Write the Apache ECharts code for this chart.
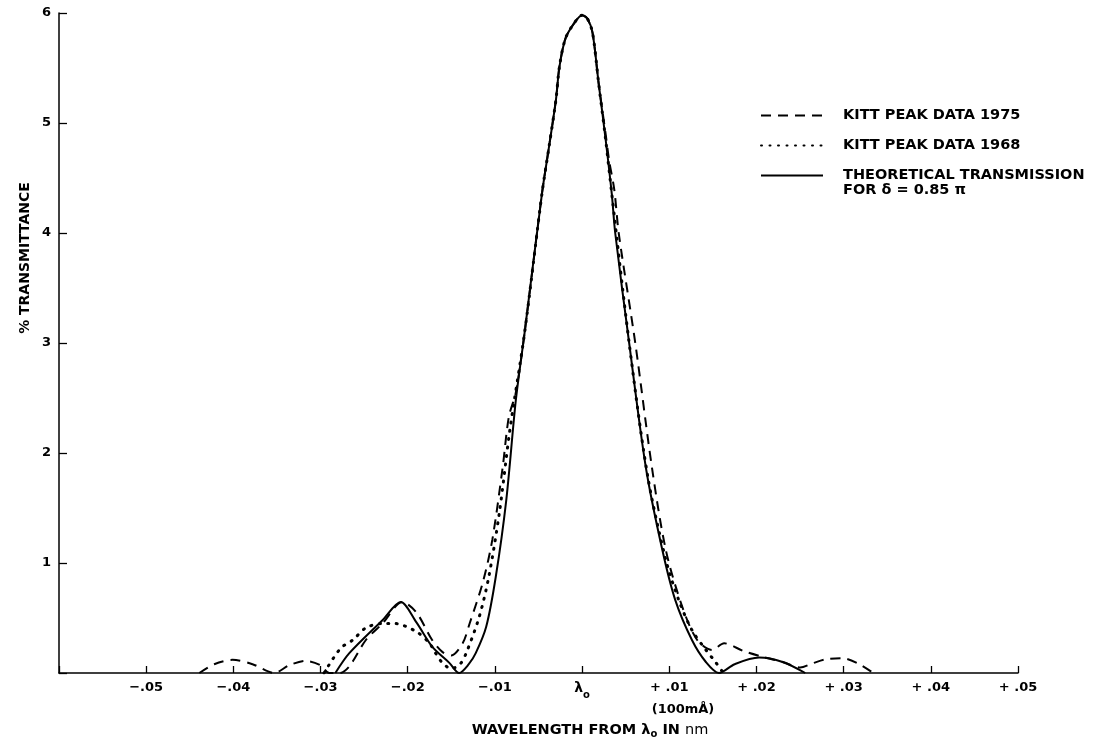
<!DOCTYPE html>
<html>
<head>
<meta charset="utf-8">
<script src="https://cdn.jsdelivr.net/npm/echarts@6/dist/echarts.min.js"></script>
<style>
  html, body { margin: 0; padding: 0; background: #fff; }
  #chart { width: 1102px; height: 743px; }
</style>
</head>
<body>
<div id="chart"></div>
<script>
// wavelength offset from lambda0 in nm, % transmittance
var kitt1975 = [
  [-0.0439, 0], [-0.0422, 0.08], [-0.0401, 0.12], [-0.0378, 0.08], [-0.0353, 0],
  [-0.0336, 0.07], [-0.0317, 0.11], [-0.0300, 0.07], [-0.0290, 0], [-0.0278, 0],
  [-0.0267, 0.06], [-0.0248, 0.30], [-0.0229, 0.45], [-0.0206, 0.645], [-0.0190, 0.55],
  [-0.0172, 0.30], [-0.0160, 0.19], [-0.0150, 0.16], [-0.0137, 0.27], [-0.0129, 0.45],
  [-0.0114, 0.82], [-0.0103, 1.21], [-0.0091, 1.875], [-0.0084, 2.33], [-0.0076, 2.55],
  [-0.0066, 3.09], [-0.0046, 4.36], [-0.0038, 4.78], [-0.0030, 5.21], [-0.0026, 5.51],
  [-0.0019, 5.77], [-0.0008, 5.92], [0, 5.98], [0.0006, 5.95], [0.0012, 5.82],
  [0.0019, 5.36], [0.0027, 4.9], [0.0031, 4.66], [0.0037, 4.39], [0.0042, 4.0],
  [0.0061, 3.0], [0.0080, 1.875], [0.0096, 1.12], [0.0115, 0.60], [0.0132, 0.30],
  [0.0149, 0.21], [0.0163, 0.27], [0.0185, 0.20], [0.0208, 0.145], [0.0230, 0.10],
  [0.0250, 0.05], [0.0265, 0.09], [0.0280, 0.125], [0.0298, 0.135], [0.0318, 0.08],
  [0.0334, 0]
];
var kitt1968 = [
  [-0.0296, 0], [-0.0277, 0.225], [-0.0263, 0.30], [-0.0248, 0.41], [-0.0229, 0.45],
  [-0.0215, 0.45], [-0.0190, 0.375], [-0.0175, 0.27], [-0.0168, 0.18], [-0.0160, 0.09],
  [-0.0150, 0.04], [-0.0140, 0.08], [-0.0133, 0.18], [-0.0118, 0.51], [-0.0107, 0.875],
  [-0.0095, 1.45], [-0.0083, 2.2], [-0.0066, 3.09], [-0.0046, 4.36], [-0.0038, 4.78],
  [-0.0030, 5.21], [-0.0026, 5.51], [-0.0019, 5.77], [-0.0008, 5.92], [0, 5.98],
  [0.0006, 5.95], [0.0012, 5.82], [0.0019, 5.36], [0.0027, 4.85], [0.0034, 4.36],
  [0.0054, 3.0], [0.0075, 1.8], [0.0096, 1.03], [0.0111, 0.66], [0.0126, 0.39],
  [0.0142, 0.21], [0.0153, 0.10], [0.0162, 0]
];
var theory = [
  [-0.0283, 0], [-0.0267, 0.18], [-0.0229, 0.48], [-0.0208, 0.645], [-0.0190, 0.46],
  [-0.0172, 0.24], [-0.0152, 0.09], [-0.0141, 0], [-0.0130, 0.08], [-0.0122, 0.18],
  [-0.0110, 0.42], [-0.0099, 0.875], [-0.0087, 1.57], [-0.0076, 2.48], [-0.0066, 3.09],
  [-0.0046, 4.36], [-0.0038, 4.78], [-0.0030, 5.21], [-0.0026, 5.51], [-0.0019, 5.77],
  [-0.0008, 5.92], [0, 5.98], [0.0006, 5.95], [0.0012, 5.82], [0.0019, 5.36],
  [0.0027, 4.85], [0.0034, 4.36], [0.0038, 4.0], [0.0054, 3.0], [0.0073, 1.875],
  [0.0092, 1.12], [0.0107, 0.66], [0.0126, 0.30], [0.0142, 0.10], [0.0157, 0],
  [0.0175, 0.08], [0.0203, 0.14], [0.0230, 0.10], [0.0256, 0]
];
var seriesNames = ["KITT PEAK DATA 1975", "KITT PEAK DATA 1968", "THEORETICAL TRANSMISSION"];
var xTickLabels = {
  "-5": "\u2212.05", "-4": "\u2212.04", "-3": "\u2212.03", "-2": "\u2212.02", "-1": "\u2212.01",
  "0": "{l|\u03bb}{s|o}",
  "1": "+ .01", "2": "+ .02", "3": "+ .03", "4": "+ .04", "5": "+ .05"
};

var font = "DejaVu Sans";
var myChart = echarts.init(document.getElementById("chart"));
var option = {
  animation: false,
  backgroundColor: "#fff",
  grid: { left: 59, right: 84, top: 13, bottom: 70 },
  legend: {
    orient: "vertical",
    left: 755,
    top: 103,
    itemWidth: 62,
    itemHeight: 14,
    itemGap: 15,
    selectedMode: false,
    itemStyle: { opacity: 0 },
    textStyle: {
      fontFamily: font,
      fontWeight: "bold",
      fontSize: 14.5,
      color: "#000",
      padding: [0, 0, 0, 15]
    },
    data: seriesNames
  },
  xAxis: {
    type: "value",
    min: -0.06,
    max: 0.05,
    interval: 0.01,
    splitLine: { show: false },
    axisLine: { lineStyle: { color: "#000", width: 1.5 } },
    axisTick: { inside: true, length: 7, lineStyle: { color: "#000", width: 1.3 } },
    axisLabel: {
      margin: 8,
      color: "#000",
      fontFamily: font,
      fontWeight: "bold",
      fontSize: 13,
      formatter: function (v) {
        var k = Math.round(v * 100);
        return xTickLabels[k] || "";
      },
      rich: {
        l: { fontFamily: font, fontWeight: "bold", fontSize: 14, color: "#000", lineHeight: 15, verticalAlign: "top" },
        s: { fontFamily: font, fontWeight: "bold", fontSize: 10, color: "#000", lineHeight: 10, padding: [9, 0, 0, 0], verticalAlign: "top" }
      }
    }
  },
  yAxis: {
    type: "value",
    min: 0,
    max: 6,
    interval: 1,
    splitLine: { show: false },
    axisLine: { show: true, onZero: false, lineStyle: { color: "#000", width: 1.5 } },
    axisTick: { show: true, inside: true, length: 8, lineStyle: { color: "#000", width: 1.3 } },
    axisLabel: {
      margin: 8,
      color: "#000",
      fontFamily: font,
      fontWeight: "bold",
      fontSize: 13,
      formatter: function (v) { return v === 0 ? "" : String(v); }
    }
  },
  series: [
    {
      name: seriesNames[0],
      type: "line",
      data: kitt1975,
      smooth: 0.3,
      showSymbol: false,
      symbol: "none",
      lineStyle: { color: "#000", width: 2, type: [10, 7] }
    },
    {
      name: seriesNames[1],
      type: "line",
      data: kitt1968,
      smooth: 0.3,
      showSymbol: false,
      symbol: "none",
      lineStyle: { color: "#000", width: 3, type: [1, 7.5], cap: "round" }
    },
    {
      name: seriesNames[2],
      type: "line",
      data: theory,
      smooth: 0.3,
      showSymbol: false,
      symbol: "none",
      lineStyle: { color: "#000", width: 2 }
    }
  ],
  graphic: [
    {
      type: "text",
      left: 843,
      top: 183,
      style: { text: "FOR \u03b4 = 0.85 \u03c0", font: "bold 14.5px " + font, fill: "#000" }
    },
    {
      type: "text",
      x: 683,
      y: 710,
      style: { text: "(100m\u00c5)", font: "bold 13px " + font, fill: "#000", align: "center", verticalAlign: "middle" }
    },
    {
      type: "text",
      x: 590,
      y: 730,
      style: {
        text: "WAVELENGTH FROM \u03bb{s|o} IN {n|nm}",
        font: "bold 14.5px " + font,
        fill: "#000",
        align: "center",
        verticalAlign: "middle",
        rich: {
          s: { font: "bold 10px " + font, fill: "#000", padding: [9, 0, 0, 0] },
          n: { font: "14.5px " + font, fill: "#000" }
        }
      }
    },
    {
      type: "text",
      x: 25,
      y: 258,
      rotation: Math.PI / 2,
      style: { text: "% TRANSMITTANCE", font: "bold 14px " + font, fill: "#000", align: "center", verticalAlign: "middle" }
    }
  ]
};
myChart.setOption(option);
</script>
</body>
</html>
